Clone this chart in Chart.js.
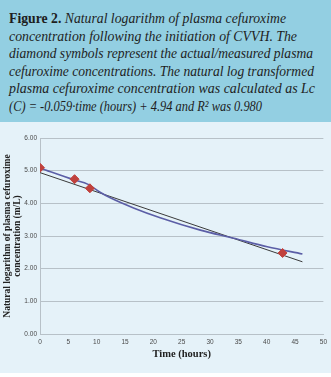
<!DOCTYPE html>
<html lang="en">
<head>
    <meta charset="UTF-8">
    <title>Figure 2</title>
    <style>
        body {
            margin: 0;
            width: 331px;
            height: 377px;
            background: #fff;
            overflow: hidden;
        }
        .caption {
            height: 122px;
            box-sizing: border-box;
            padding: 10px 0 0 9px;
            background: #93cfe2;
            font-family: "Liberation Serif", serif;
            font-style: italic;
            font-size: 15px;
            line-height: 17.6px;
            color: #1e1e1e;
            white-space: nowrap;
        }
        .caption div span {
            display: inline-block;
            transform-origin: left center;
        }
        .caption b {
            font-style: normal;
        }
        .chart-box {
            position: relative;
            height: 251px;
            background: #e5f2f9;
        }
    </style>
</head>
<body>
    <div class="caption">
        <div><span data-w="277"><b>Figure 2.</b> Natural logarithm of plasma cefuroxime</span></div>
        <div><span data-w="288">concentration following the initiation of CVVH. The</span></div>
        <div><span data-w="304">diamond symbols represent the actual/measured plasma</span></div>
        <div><span data-w="305">cefuroxime concentrations. The natural log transformed</span></div>
        <div><span data-w="306">plasma cefuroxime concentration was calculated as Lc</span></div>
        <div><span data-w="253">(C) = -0.059·time (hours) + 4.94 and R² was 0.980</span></div>
    </div>
    <div class="chart-box">
        <canvas id="chart"></canvas>
    </div>
    <script src="https://cdn.jsdelivr.net/npm/chart.js"></script>
    <script>
        // measured plasma values (diamonds)
        const measuredTime = [0, 6.1, 8.8, 42.8];
        const measuredLn = [5.09, 4.74, 4.46, 2.48];

        // model curve (blue)
        const modelTime = [0, 6, 8.5, 10.6, 12.4, 16.5, 21.2, 28.3, 34.2, 40.1, 46.3];
        const modelLn = [5.08, 4.72, 4.58, 4.34, 4.17, 3.86, 3.56, 3.18, 2.93, 2.67, 2.45];

        // regression line Lc = -0.059*t + 4.94
        const regTime = [0, 46.3];
        const regLn = [4.94, 2.21];

        const xTicks = [0, 5, 10, 15, 20, 25, 30, 35, 40, 45, 50];
        const yTicks = [0, 1, 2, 3, 4, 5, 6];

        // squeeze caption lines to the widths of the printed figure
        document.querySelectorAll('.caption span[data-w]').forEach(el => {
            const w = el.getBoundingClientRect().width;
            el.style.transform = 'scaleX(' + (el.dataset.w / w) + ')';
        });

        const toPoints = (xs, ys) => xs.map((x, i) => ({ x: x, y: ys[i] }));

        const gridColor = '#b7c1c8';
        const tickFont = { family: 'Liberation Sans', size: 6.5 };

        new Chart(document.getElementById('chart'), {
            type: 'scatter',
            data: {
                datasets: [
                    {
                        label: 'Model',
                        data: toPoints(modelTime, modelLn),
                        showLine: true,
                        borderColor: '#5b5ea6',
                        borderWidth: 1.6,
                        pointRadius: 0,
                        cubicInterpolationMode: 'monotone',
                        order: 2
                    },
                    {
                        label: 'Regression',
                        data: toPoints(regTime, regLn),
                        showLine: true,
                        borderColor: '#3a3a3a',
                        borderWidth: 1,
                        pointRadius: 0,
                        order: 3
                    },
                    {
                        label: 'Measured',
                        data: toPoints(measuredTime, measuredLn),
                        pointStyle: 'rectRot',
                        pointRadius: 4.5,
                        backgroundColor: '#c0413d',
                        borderColor: '#c0413d',
                        order: 1
                    }
                ]
            },
            options: {
                responsive: true,
                maintainAspectRatio: false,
                animation: false,
                layout: { padding: { top: 16, right: 4, bottom: 12 } },
                plugins: {
                    legend: { display: false },
                    tooltip: { enabled: false }
                },
                scales: {
                    x: {
                        type: 'linear',
                        min: 0,
                        max: 50,
                        afterBuildTicks: (scale) => { scale.ticks = xTicks.map(v => ({ value: v })); },
                        grid: { display: false, drawTicks: false },
                        border: { color: gridColor },
                        ticks: { font: tickFont, color: '#4a4a4a', padding: 4, maxRotation: 0 },
                        title: {
                            display: true,
                            text: 'Time (hours)',
                            font: { family: 'Liberation Serif', size: 10.5, weight: 'bold' },
                            color: '#222',
                            padding: { top: 2, bottom: 0 }
                        },
                        afterFit: (scale) => { scale.height = 27; }
                    },
                    y: {
                        min: 0,
                        max: 6,
                        afterBuildTicks: (scale) => { scale.ticks = yTicks.map(v => ({ value: v })); },
                        grid: { color: gridColor, drawTicks: false },
                        border: { color: gridColor },
                        ticks: {
                            font: tickFont,
                            color: '#4a4a4a',
                            padding: 3,
                            callback: (v) => v.toFixed(2)
                        },
                        title: {
                            display: true,
                            text: ['Natural logarithm of plasma cefuroxime', 'concentration (m/L)'],
                            font: { family: 'Liberation Serif', size: 9.5, weight: 'bold', lineHeight: 1.05 },
                            color: '#222',
                            padding: { top: 2.5, bottom: 0 }
                        },
                        afterFit: (scale) => { scale.width = 40; }
                    }
                }
            }
        });
    </script>
</body>
</html>
